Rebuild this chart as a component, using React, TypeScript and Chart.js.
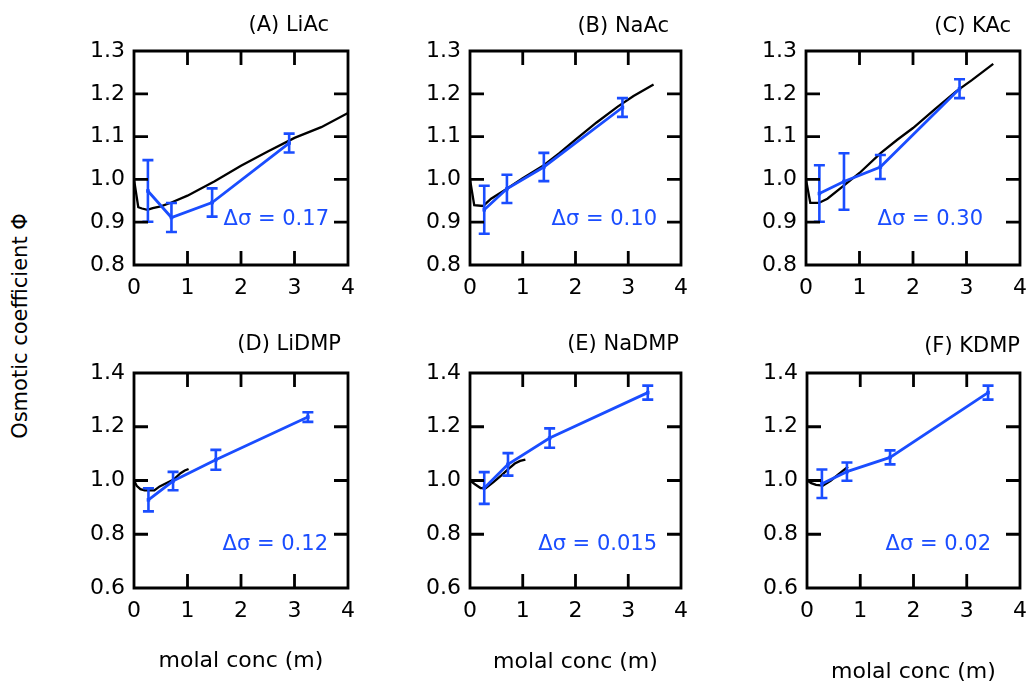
import React, { useEffect, useRef } from "react";
import { Chart, registerables } from "chart.js";

Chart.register(...registerables);

const FONT = "'DejaVu Sans', 'Liberation Sans', sans-serif";
const BLUE = "#1a4dff";
const BLACK = "#000000";

// ---- tick values ----
const xTickValues = [0, 1, 2, 3, 4];
const yTicksAc = [0.8, 0.9, 1.0, 1.1, 1.2, 1.3];
const yTicksDmp = [0.6, 0.8, 1.0, 1.2, 1.4];

// ---- panel labels ----
const panelTitles = ["(A) LiAc", "(B) NaAc", "(C) KAc", "(D) LiDMP", "(E) NaDMP", "(F) KDMP"];
const deltaSigma = ["0.17", "0.10", "0.30", "0.12", "0.015", "0.02"];

// ---- simulated osmotic coefficients (blue, with error bars) ----
const liAcConc = [0.26, 0.7, 1.46, 2.9];
const liAcPhi = [0.973, 0.911, 0.946, 1.085];
const liAcErr = [0.072, 0.034, 0.033, 0.022];

const naAcConc = [0.27, 0.7, 1.4, 2.89];
const naAcPhi = [0.929, 0.978, 1.029, 1.168];
const naAcErr = [0.056, 0.033, 0.033, 0.022];

const kAcConc = [0.25, 0.71, 1.39, 2.87];
const kAcPhi = [0.967, 0.995, 1.029, 1.212];
const kAcErr = [0.066, 0.066, 0.028, 0.022];

const liDmpConc = [0.27, 0.73, 1.53, 3.25];
const liDmpPhi = [0.928, 0.998, 1.077, 1.236];
const liDmpErr = [0.043, 0.034, 0.037, 0.018];

const naDmpConc = [0.27, 0.72, 1.51, 3.37];
const naDmpPhi = [0.972, 1.06, 1.158, 1.327];
const naDmpErr = [0.059, 0.042, 0.036, 0.026];

const kDmpConc = [0.28, 0.75, 1.56, 3.4];
const kDmpPhi = [0.988, 1.033, 1.086, 1.327];
const kDmpErr = [0.053, 0.034, 0.026, 0.026];

// ---- experimental reference curves (black) ----
const liAcRefConc = [0, 0.08, 0.15, 0.25, 0.35, 0.5, 0.7, 1.0, 1.2, 1.5, 2.0, 2.5, 3.0, 3.5, 4.0];
const liAcRefPhi = [1.0, 0.935, 0.932, 0.929, 0.933, 0.937, 0.946, 0.962, 0.975, 0.995, 1.032, 1.065, 1.097, 1.122, 1.155];

const naAcRefConc = [0, 0.08, 0.25, 0.4, 0.7, 1.0, 1.2, 1.4, 1.7, 2.0, 2.4, 2.8, 3.1, 3.48];
const naAcRefPhi = [1.0, 0.94, 0.938, 0.955, 0.978, 1.003, 1.018, 1.033, 1.062, 1.093, 1.133, 1.17, 1.195, 1.222];

const kAcRefConc = [0, 0.08, 0.24, 0.4, 0.7, 1.0, 1.4, 1.7, 2.0, 2.4, 2.8, 3.1, 3.5];
const kAcRefPhi = [1.0, 0.945, 0.945, 0.955, 0.985, 1.015, 1.062, 1.092, 1.12, 1.163, 1.205, 1.232, 1.27];

const liDmpRefConc = [0, 0.05, 0.12, 0.2, 0.38, 0.48, 0.6, 0.75, 0.87, 0.95, 1.02];
const liDmpRefPhi = [1.0, 0.98, 0.968, 0.963, 0.963, 0.978, 0.99, 1.005, 1.027, 1.037, 1.043];

const naDmpRefConc = [0, 0.1, 0.2, 0.3, 0.45, 0.6, 0.73, 0.85, 0.95, 1.05];
const naDmpRefPhi = [1.0, 0.985, 0.972, 0.972, 0.995, 1.02, 1.043, 1.063, 1.073, 1.078];

const kDmpRefConc = [0, 0.08, 0.17, 0.3, 0.45, 0.6, 0.77];
const kDmpRefPhi = [1.0, 0.99, 0.984, 0.981, 1.0, 1.025, 1.052];

type Series = { conc: number[]; phi: number[]; err: number[]; refConc: number[]; refPhi: number[]; yTicks: number[] };

const series: Series[] = [
  { conc: liAcConc, phi: liAcPhi, err: liAcErr, refConc: liAcRefConc, refPhi: liAcRefPhi, yTicks: yTicksAc },
  { conc: naAcConc, phi: naAcPhi, err: naAcErr, refConc: naAcRefConc, refPhi: naAcRefPhi, yTicks: yTicksAc },
  { conc: kAcConc, phi: kAcPhi, err: kAcErr, refConc: kAcRefConc, refPhi: kAcRefPhi, yTicks: yTicksAc },
  { conc: liDmpConc, phi: liDmpPhi, err: liDmpErr, refConc: liDmpRefConc, refPhi: liDmpRefPhi, yTicks: yTicksDmp },
  { conc: naDmpConc, phi: naDmpPhi, err: naDmpErr, refConc: naDmpRefConc, refPhi: naDmpRefPhi, yTicks: yTicksDmp },
  { conc: kDmpConc, phi: kDmpPhi, err: kDmpErr, refConc: kDmpRefConc, refPhi: kDmpRefPhi, yTicks: yTicksDmp },
];

// ---- page geometry of each plot box ----
const Y_W = 70; // room for y tick labels
const PAD_TOP = 45; // room for the panel title
const PAD_R = 14;
const TICK_LEN = 14;
const LINE_W = 2.8;

type Box = {
  left: number; top: number; w: number; h: number;
  xh: number; xTitle: boolean; xTitlePad: number;
  titleDx: number; titleDy: number; noteDx: number; noteDy: number;
};

const boxes: Box[] = [
  { left: 134, top: 51, w: 214, h: 214, xh: 40, xTitle: false, xTitlePad: 0, titleDx: -19, titleDy: -25, noteDx: -19, noteDy: 169 },
  { left: 470, top: 51, w: 211, h: 214, xh: 40, xTitle: false, xTitlePad: 0, titleDx: -12, titleDy: -24, noteDx: -24, noteDy: 169 },
  { left: 806, top: 51, w: 214, h: 214, xh: 40, xTitle: false, xTitlePad: 0, titleDx: -9, titleDy: -24, noteDx: -37, noteDy: 169 },
  { left: 134, top: 373, w: 214, h: 215, xh: 100, xTitle: true, xTitlePad: 13.8, titleDx: -7, titleDy: -28, noteDx: -20, noteDy: 172 },
  { left: 470, top: 373, w: 211, h: 215, xh: 100, xTitle: true, xTitlePad: 12.8, titleDx: -2, titleDy: -28, noteDx: -24, noteDy: 172 },
  { left: 807, top: 373, w: 213, h: 215, xh: 100, xTitle: true, xTitlePad: 2.8, titleDx: 0, titleDy: -26, noteDx: -29, noteDy: 172 },
];

// Vertical error bars with caps for the simulated series
const errorBars = {
  id: "errorBars",
  afterDatasetsDraw(chart: any, _args: any, opts: any) {
    const { ctx } = chart;
    const xs = chart.scales.x;
    const ys = chart.scales.y;
    const s: Series = opts.series;
    ctx.save();
    ctx.strokeStyle = BLUE;
    ctx.lineWidth = 2.6;
    s.conc.forEach((c, i) => {
      const px = xs.getPixelForValue(c);
      const y1 = ys.getPixelForValue(s.phi[i] + s.err[i]);
      const y2 = ys.getPixelForValue(s.phi[i] - s.err[i]);
      ctx.beginPath();
      ctx.moveTo(px, y1);
      ctx.lineTo(px, y2);
      ctx.moveTo(px - 5.5, y1);
      ctx.lineTo(px + 5.5, y1);
      ctx.moveTo(px - 5.5, y2);
      ctx.lineTo(px + 5.5, y2);
      ctx.stroke();
    });
    ctx.restore();
  },
};

// Closed frame plus inward tick marks on all four sides, one path
const frameTicks = {
  id: "frameTicks",
  afterDraw(chart: any, _args: any, opts: any) {
    const { ctx, chartArea: a } = chart;
    const xs = chart.scales.x;
    const ys = chart.scales.y;
    const xv: number[] = Array.from(opts.xValues || []);
    const yv: number[] = Array.from(opts.yValues || []);
    ctx.save();
    ctx.strokeStyle = BLACK;
    ctx.lineWidth = LINE_W;
    ctx.lineCap = "butt";
    ctx.beginPath();
    ctx.rect(a.left, a.top, a.right - a.left, a.bottom - a.top);
    for (let i = 1; i < xv.length - 1; i++) {
      const px = xs.getPixelForValue(xv[i]);
      ctx.moveTo(px, a.bottom);
      ctx.lineTo(px, a.bottom - TICK_LEN);
      ctx.moveTo(px, a.top);
      ctx.lineTo(px, a.top + TICK_LEN);
    }
    for (let i = 1; i < yv.length - 1; i++) {
      const py = ys.getPixelForValue(yv[i]);
      ctx.moveTo(a.left, py);
      ctx.lineTo(a.left + TICK_LEN, py);
      ctx.moveTo(a.right, py);
      ctx.lineTo(a.right - TICK_LEN, py);
    }
    ctx.stroke();
    ctx.restore();
  },
};

// Panel title and Δσ note
const panelNotes = {
  id: "panelNotes",
  afterDraw(chart: any, _args: any, opts: any) {
    const { ctx, chartArea: a } = chart;
    ctx.save();
    ctx.textAlign = "right";
    ctx.textBaseline = "middle";
    ctx.fillStyle = BLACK;
    ctx.font = `21px ${FONT}`;
    ctx.fillText(opts.title, a.right + opts.titleDx, a.top + opts.titleDy);
    ctx.fillStyle = BLUE;
    ctx.font = `21px ${FONT}`;
    ctx.fillText(`Δσ = ${opts.delta}`, a.right + opts.noteDx, a.top + opts.noteDy);
    ctx.restore();
  },
};

function Panel({ idx }: { idx: number }) {
  const ref = useRef<HTMLCanvasElement | null>(null);
  const b = boxes[idx];
  const s = series[idx];
  const cw = Y_W + b.w + PAD_R;
  const chh = PAD_TOP + b.h + b.xh;

  useEffect(() => {
    if (!ref.current) return;
    const yMin = s.yTicks[0];
    const yMax = s.yTicks[s.yTicks.length - 1];
    const tickFont = { family: FONT, size: 22 };
    const chart = new Chart(ref.current, {
      type: "line",
      data: {
        datasets: [
          {
            data: s.refConc.map((x, i) => ({ x, y: s.refPhi[i] })),
            borderColor: BLACK,
            borderWidth: 2.3,
            pointRadius: 0,
            tension: 0,
            order: 2,
          },
          {
            data: s.conc.map((x, i) => ({ x, y: s.phi[i] })),
            borderColor: BLUE,
            backgroundColor: BLUE,
            borderWidth: 2.8,
            pointRadius: 2.5,
            pointStyle: "rect",
            pointBorderWidth: 0,
            tension: 0,
            order: 1,
          },
        ],
      },
      options: {
        responsive: false,
        animation: false,
        devicePixelRatio: 1,
        layout: { padding: { left: 0, top: PAD_TOP, right: PAD_R, bottom: 0 } },
        plugins: {
          legend: { display: false },
          tooltip: { enabled: false },
          title: { display: false },
          errorBars: { series: s },
          frameTicks: { xValues: xTickValues, yValues: s.yTicks },
          panelNotes: {
            title: panelTitles[idx],
            delta: deltaSigma[idx],
            titleDx: b.titleDx,
            titleDy: b.titleDy,
            noteDx: b.noteDx,
            noteDy: b.noteDy,
          },
        } as any,
        scales: {
          x: {
            type: "linear",
            min: 0,
            max: 4,
            grid: { display: false, drawTicks: false },
            border: { display: false },
            afterBuildTicks: (sc: any) => {
              sc.ticks = xTickValues.map((v) => ({ value: v }));
            },
            ticks: {
              font: tickFont,
              color: BLACK,
              padding: 10,
              autoSkip: false,
              maxRotation: 0,
              callback: (v: any) => String(v),
            },
            title: {
              display: b.xTitle,
              text: "molal conc (m)",
              color: BLACK,
              font: { family: FONT, size: 22 },
              padding: { top: 0, bottom: b.xTitlePad },
            },
            afterFit: (sc: any) => {
              sc.height = b.xh;
              sc.paddingLeft = 0;
              sc.paddingRight = 0;
            },
          },
          y: {
            type: "linear",
            min: yMin,
            max: yMax,
            grid: { display: false, drawTicks: false },
            border: { display: false },
            afterBuildTicks: (sc: any) => {
              sc.ticks = s.yTicks.map((v) => ({ value: v }));
            },
            ticks: {
              font: tickFont,
              color: BLACK,
              padding: 9,
              autoSkip: false,
              callback: (v: any) => Number(v).toFixed(1),
            },
            afterFit: (sc: any) => {
              sc.width = Y_W;
              sc.paddingTop = 0;
              sc.paddingBottom = 0;
            },
          },
        },
      } as any,
      plugins: [errorBars, frameTicks, panelNotes],
    });
    return () => chart.destroy();
  }, []);

  return (
    <canvas
      ref={ref}
      width={cw}
      height={chh}
      style={{
        position: "absolute",
        left: b.left - Y_W,
        top: b.top - PAD_TOP,
        width: cw,
        height: chh,
      }}
    />
  );
}

export default function App() {
  return (
    <div
      style={{
        position: "absolute",
        left: 0,
        top: 0,
        width: 1032,
        height: 681,
        overflow: "hidden",
        background: "#ffffff",
      }}
    >
      {boxes.map((_, i) => (
        <Panel key={i} idx={i} />
      ))}
      <div
        style={{
          position: "absolute",
          left: 20,
          top: 326,
          transform: "translate(-50%, -50%) rotate(-90deg)",
          fontFamily: FONT,
          fontSize: 21,
          whiteSpace: "nowrap",
          color: BLACK,
          lineHeight: 1,
        }}
      >
        Osmotic coefficient Φ
      </div>
    </div>
  );
}
